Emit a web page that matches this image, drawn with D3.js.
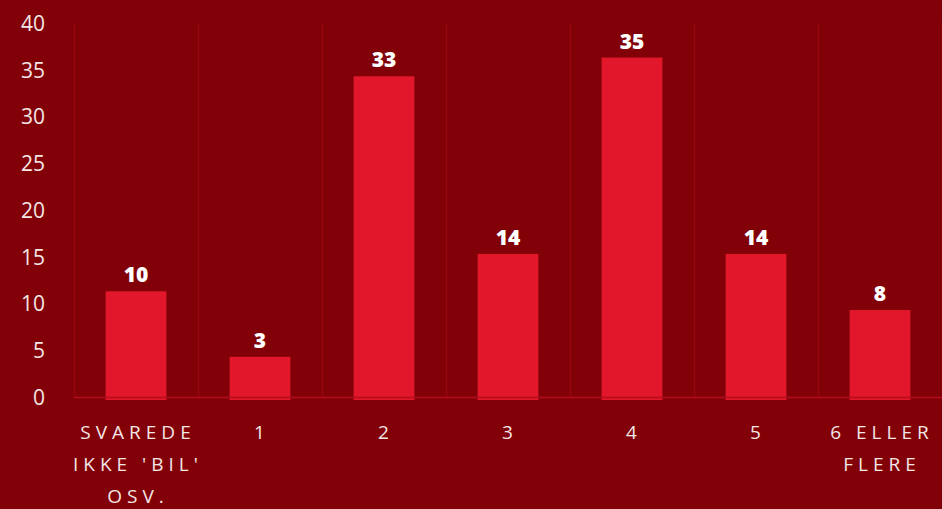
<!DOCTYPE html>
<html><head><meta charset="utf-8">
<script src="https://cdn.jsdelivr.net/npm/d3@7"></script>
<style>
html,body{margin:0;padding:0;background:#820007;}
svg{display:block;}
</style></head>
<body>
<svg id="c" width="942" height="509"></svg>
<script>
const categories = [["SVAREDE","IKKE 'BIL'","OSV."],["1"],["2"],["3"],["4"],["5"],["6 ELLER","FLERE"]];
const barValues = [11.3, 4.3, 34.3, 15.3, 36.3, 15.3, 9.3];
const valueLabels = ["10", "3", "33", "14", "35", "14", "8"];
const yTicks = [0, 5, 10, 15, 20, 25, 30, 35, 40];

const W = 942, H = 509;
const m = {left: 74, right: 0, top: 23, bottom: 112};
const svg = d3.select("#c");
svg.append("rect").attr("width", W).attr("height", H).attr("fill", "#820007");

const x = d3.scaleBand().domain(d3.range(categories.length)).range([m.left, W - m.right]).paddingInner(0).paddingOuter(0);
const y = d3.scaleLinear().domain([0, 40]).range([H - m.bottom, m.top]);

// vertical grid lines
const edges = d3.range(categories.length).map(i => x(i));
svg.append("g").selectAll("line").data(edges.concat([W - m.right])).join("line")
  .attr("x1", d => d + 0.5).attr("x2", d => d + 0.5)
  .attr("y1", y(40)).attr("y2", y(0))
  .attr("stroke", "#970512").attr("stroke-width", 1.5);

// bars
const bw = x.bandwidth() * 0.49;
svg.append("g").selectAll("rect").data(barValues).join("rect")
  .attr("x", (d, i) => x(i) + (x.bandwidth() - bw) / 2)
  .attr("width", bw)
  .attr("y", d => y(d))
  .attr("height", d => y(0) - y(d) + 3)
  .attr("fill", "#e3172b");

// baseline
svg.append("line").attr("x1", m.left).attr("x2", W).attr("y1", y(0) + 0.5).attr("y2", y(0) + 0.5)
  .attr("stroke", "#b30d1c").attr("stroke-width", 1.5);

// y axis
const yAxis = d3.axisLeft(y).tickValues(yTicks).tickSize(0).tickPadding(0);
const gy = svg.append("g").attr("transform", `translate(45,0)`).call(yAxis);
gy.select(".domain").remove();
gy.selectAll("text").attr("fill", "#f3e6e6").style("font-family", "'Open Sans', sans-serif")
  .style("font-size", "21px").style("font-weight", 400).attr("dy", "0.35em");

// value labels
svg.append("g").selectAll("text").data(barValues).join("text")
  .attr("x", (d, i) => x(i) + x.bandwidth() / 2)
  .attr("y", d => y(d) - 9)
  .attr("text-anchor", "middle")
  .attr("fill", "#ffffff")
  .style("font-family", "'Open Sans', sans-serif").style("font-weight", 800).style("font-size", "21px")
  .text((d, i) => valueLabels[i]);

// x labels
const gx = svg.append("g");
categories.forEach((lines, i) => {
  const cx = x(i) + x.bandwidth() / 2 + 2;
  const t = gx.append("text")
    .attr("x", cx)
    .attr("y", 439)
    .attr("text-anchor", "middle")
    .attr("fill", "#f3e6e6")
    .style("font-family", "'Open Sans', sans-serif").style("font-size", "19px")
    .style("letter-spacing", "5px");
  lines.forEach((l, j) => {
    t.append("tspan").attr("x", cx).attr("dy", j === 0 ? 0 : 32).text(l);
  });
});
</script>
</body></html>
